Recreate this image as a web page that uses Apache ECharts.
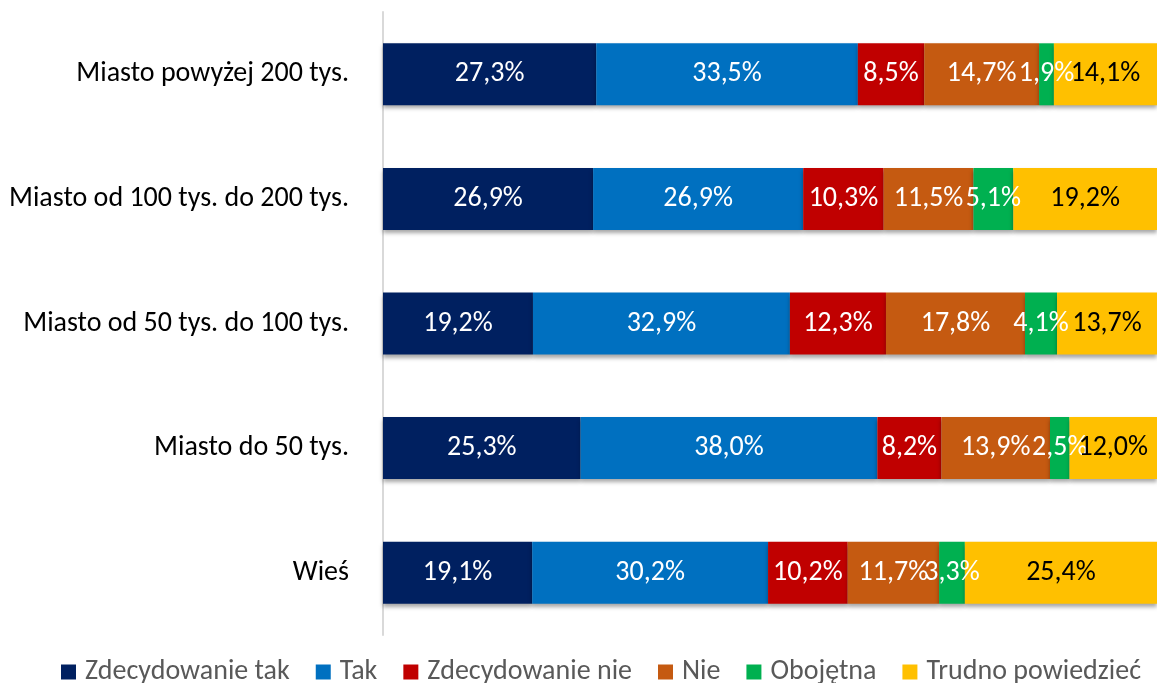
<!DOCTYPE html>
<html>
<head>
<meta charset="utf-8">
<script src="https://cdn.jsdelivr.net/npm/echarts@6/dist/echarts.min.js"></script>
<style>
  html, body { margin: 0; padding: 0; background: #fff; }
  #chart { width: 1157px; height: 683px; }
</style>
</head>
<body>
<div id="chart"></div>
<script>
// kategorie (od góry)
var categories = ['Miasto powyżej 200 tys.', 'Miasto od 100 tys. do 200 tys.', 'Miasto od 50 tys. do 100 tys.', 'Miasto do 50 tys.', 'Wieś'];

// wartości serii, %
var zdecydowanieTak = [27.3, 26.9, 19.2, 25.3, 19.1];
var tak = [33.5, 26.9, 32.9, 38.0, 30.2];
var zdecydowanieNie = [8.5, 10.3, 12.3, 8.2, 10.2];
var nie = [14.7, 11.5, 17.8, 13.9, 11.7];
var obojetna = [1.9, 5.1, 4.1, 2.5, 3.3];
var trudnoPowiedziec = [14.1, 19.2, 13.7, 12.0, 25.4];

var seriesNames = ['Zdecydowanie tak', 'Tak', 'Zdecydowanie nie', 'Nie', 'Obojętna', 'Trudno powiedzieć'];
var seriesData = [zdecydowanieTak, tak, zdecydowanieNie, nie, obojetna, trudnoPowiedziec];
var colors = ['#002060', '#0070C0', '#C00000', '#C55A11', '#00B050', '#FFC000'];

var font = 'Carlito, "DejaVu Sans Condensed", "Liberation Sans", sans-serif';

var chart = echarts.init(document.getElementById('chart'));

var series = [];
for (var i = 0; i < seriesNames.length; i++) {
    series.push({
        name: seriesNames[i],
        type: 'bar',
        stack: 'total',
        barWidth: 62,
        data: seriesData[i],
        itemStyle: {
            color: colors[i],
            shadowColor: 'rgba(0,0,0,0.35)',
            shadowBlur: 4,
            shadowOffsetY: 3
        },
        label: {
            show: true,
            position: 'inside',
            color: i === 5 ? '#000' : '#fff',
            fontFamily: font,
            fontSize: 28,
            formatter: function (p) {
                return p.value.toFixed(1).replace('.', ',') + '%';
            }
        },
        labelLayout: { hideOverlap: false }
    });
}

chart.setOption({
    animation: false,
    grid: { left: 383, right: 0, top: 12, bottom: 48 },
    legend: {
        bottom: -8,
        left: 56,
        itemWidth: 15,
        itemHeight: 15,
        itemGap: 26,
        icon: 'rect',
        textStyle: { fontFamily: font, fontSize: 28, color: '#595959', padding: [0, 0, 0, 4] },
        data: seriesNames
    },
    // wykres wychodzi nieco poza prawą krawędź, stąd max < 100
    xAxis: { type: 'value', min: 0, max: 99.1, show: false },
    yAxis: {
        type: 'category',
        inverse: true,
        data: categories,
        axisLine: { lineStyle: { color: '#d9d9d9', width: 2 } },
        axisTick: { show: false },
        axisLabel: { color: '#000', fontFamily: font, fontSize: 28, margin: 34 }
    },
    series: series
});
window.onresize = chart.resize;
</script>
</body>
</html>
